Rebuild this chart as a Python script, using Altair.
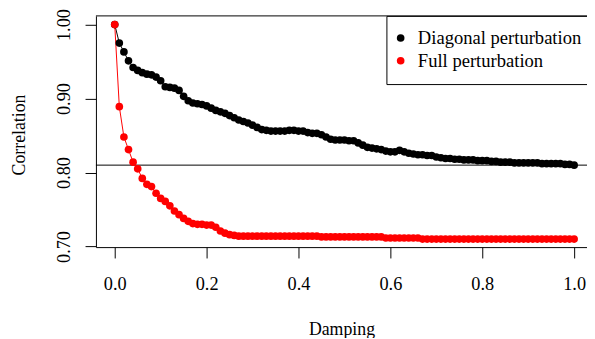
import altair as alt
import pandas as pd

damping = [i / 100 for i in range(101)]

diagonal = [
    1.000, 0.975, 0.963, 0.951, 0.942, 0.938, 0.935, 0.933, 0.932, 0.929,
    0.924, 0.916, 0.915, 0.914, 0.911, 0.903, 0.897, 0.894, 0.893, 0.892,
    0.890, 0.887, 0.884, 0.882, 0.880, 0.877, 0.874, 0.871, 0.869, 0.867,
    0.864, 0.861, 0.858, 0.857, 0.856, 0.856, 0.856, 0.856, 0.857, 0.857,
    0.856, 0.856, 0.854, 0.853, 0.853, 0.851, 0.848, 0.845, 0.844, 0.844,
    0.844, 0.843, 0.843, 0.840, 0.837, 0.834, 0.833, 0.832, 0.831, 0.829,
    0.828, 0.828, 0.830, 0.828, 0.826, 0.825, 0.824, 0.824, 0.823, 0.823,
    0.821, 0.820, 0.819, 0.819, 0.818, 0.818, 0.817, 0.817, 0.817, 0.816,
    0.816, 0.816, 0.815, 0.815, 0.814, 0.814, 0.814, 0.813, 0.813, 0.813,
    0.813, 0.813, 0.813, 0.812, 0.812, 0.812, 0.812, 0.812, 0.811, 0.811,
    0.810,
]

full = [
    1.000, 0.889, 0.848, 0.831, 0.814, 0.805, 0.792, 0.784, 0.781, 0.772,
    0.765, 0.761, 0.755, 0.748, 0.743, 0.738, 0.734, 0.731, 0.730, 0.730,
    0.729, 0.729, 0.726, 0.721, 0.718, 0.716, 0.715, 0.714, 0.714, 0.714,
    0.714, 0.714, 0.714, 0.714, 0.714, 0.714, 0.714, 0.714, 0.714, 0.714,
    0.714, 0.714, 0.714, 0.714, 0.714, 0.713, 0.713, 0.713, 0.713, 0.713,
    0.713, 0.713, 0.713, 0.713, 0.713, 0.713, 0.713, 0.713, 0.713, 0.7115,
    0.7115, 0.7115, 0.7115, 0.7115, 0.7115, 0.7115, 0.7115, 0.710, 0.710, 0.710,
    0.710, 0.710, 0.710, 0.710, 0.710, 0.710, 0.710, 0.710, 0.710, 0.710,
    0.710, 0.710, 0.710, 0.710, 0.710, 0.710, 0.710, 0.710, 0.710, 0.710,
    0.710, 0.710, 0.710, 0.710, 0.710, 0.710, 0.710, 0.710, 0.710, 0.710,
    0.710,
]

series_names = ["Diagonal perturbation", "Full perturbation"]
series_colors = ["black", "red"]
x_ticks = [0.0, 0.2, 0.4, 0.6, 0.8, 1.0]
y_ticks = [0.70, 0.75, 0.80, 0.85, 0.90, 0.95, 1.00]
ref_line = [0.81]

df = pd.DataFrame({
    "Damping": damping + damping,
    "Correlation": diagonal + full,
    "Series": [series_names[0]] * len(damping) + [series_names[1]] * len(damping),
})

FONT = "Liberation Serif"
W, H = 497, 234

xs = alt.Scale(domain=[-0.0409, 1.028], nice=False, zero=False)
ys = alt.Scale(domain=[0.6992, 1.0117], nice=False, zero=False)

common_axis = dict(
    grid=False, domainColor="black", domainWidth=1, tickColor="black",
    tickWidth=1, tickSize=11, labelFont=FONT, labelFontSize=18.5,
    labelColor="black", titleFont=FONT, titleFontSize=18,
    titleFontWeight="normal", titleColor="black", labelOverlap=False,
)

x_enc = alt.X(
    "Damping:Q", scale=xs,
    axis=alt.Axis(values=x_ticks, format=".1f", title="Damping",
                  labelBaseline="alphabetic", labelPadding=32,
                  titleY=88, titleBaseline="alphabetic", **common_axis),
)
y_enc = alt.Y(
    "Correlation:Q", scale=ys,
    axis=alt.Axis(values=y_ticks, title="Correlation",
                  labelExpr="round(datum.value*100) % 10 == 0 ? format(datum.value, '.2f') : ''",
                  labelAngle=270, labelAlign="center", labelBaseline="alphabetic",
                  labelPadding=16, titleAngle=270, titleX=-72, titleY=H / 2 + 3,
                  titleAlign="center", titleBaseline="alphabetic", **common_axis),
)
color_enc = alt.Color(
    "Series:N",
    scale=alt.Scale(domain=series_names, range=series_colors),
    legend=alt.Legend(
        orient="none", legendX=294, legendY=0, title=None,
        strokeColor="black", fillColor="white", padding=13,
        labelFont=FONT, labelFontSize=18.8, labelColor="black", labelLimit=400,
        symbolType="circle", symbolSize=60, symbolStrokeWidth=0,
        symbolOffset=-8, rowPadding=3, labelOffset=8, cornerRadius=0,
    ),
)

base = alt.Chart(df)
lines = base.mark_line(strokeWidth=1).encode(x=x_enc, y=y_enc, color=color_enc, detail="Series:N")
points = base.mark_circle(size=60, opacity=1).encode(x=x_enc, y=y_enc, color=color_enc)

hline = alt.Chart(pd.DataFrame({"Correlation": ref_line})).mark_rule(
    color="black", strokeWidth=1
).encode(y=alt.Y("Correlation:Q", scale=ys))

top_border = alt.Chart(pd.DataFrame({"v": [0]})).mark_rule(
    color="black", strokeWidth=1
).encode(x=alt.value(0), x2=alt.value(W), y=alt.value(0))

chart = alt.layer(hline, lines, points, top_border).properties(
    width=W, height=H,
    autosize=alt.AutoSizeParams(type="none"),
    padding={"left": 89, "top": 6, "right": 0, "bottom": 90},
).configure(background="white", font=FONT).configure_view(stroke=None).configure_legend(
    labelFont=FONT
).configure_axis(labelFont=FONT, titleFont=FONT)

chart.save("out.html", embed_options={"renderer": "svg", "actions": False})
